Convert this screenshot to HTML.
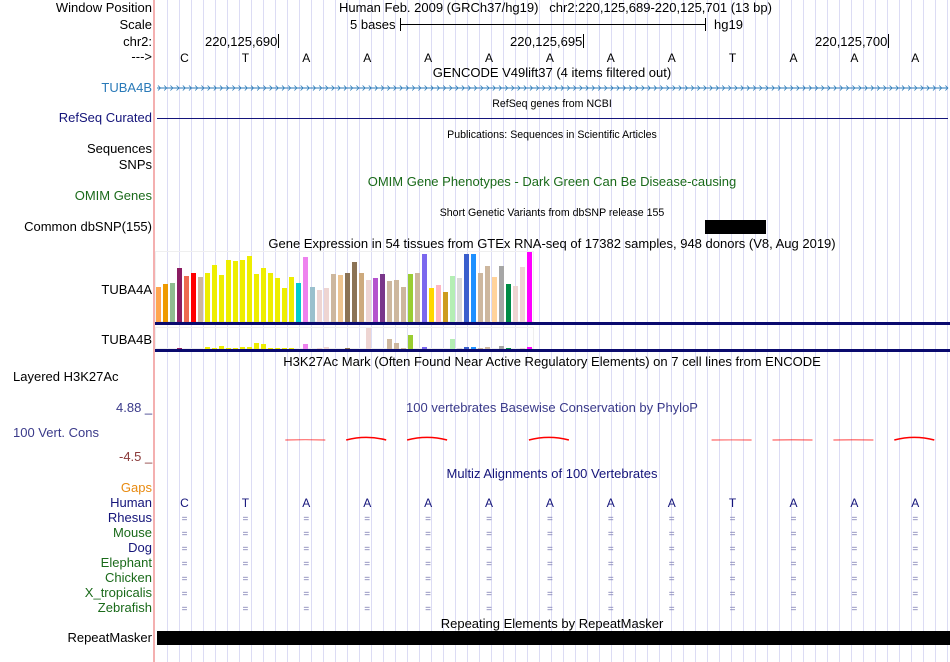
<!DOCTYPE html>
<html><head><meta charset="utf-8"><style>
html,body{margin:0;padding:0;background:#fff;}
#root{position:relative;width:950px;height:662px;overflow:hidden;font-family:"Liberation Sans",sans-serif;font-size:13px;color:#000;}
.a{position:absolute;white-space:nowrap;line-height:14px;}
.l{position:absolute;right:798px;white-space:nowrap;line-height:14px;text-align:right;}
.t{position:absolute;white-space:nowrap;line-height:14px;transform:translateX(-50%);}
.s{font-size:10.6px;}
</style></head><body>
<div id="root">
<svg id="grid" width="950" height="662" style="position:absolute;left:0;top:0"></svg>

<div class="l" style="top:1px">Window Position</div>
<div class="l" style="top:18px">Scale</div>
<div class="l" style="top:35px">chr2:</div>
<div class="l" style="top:50px">---&gt;</div>
<div class="a" style="left:339px;top:1px">Human Feb. 2009 (GRCh37/hg19)&nbsp;&nbsp; chr2:220,125,689-220,125,701 (13 bp)</div>
<div class="a" style="left:350px;top:18px">5 bases</div>
<div class="a" style="left:400px;top:24px;width:306px;height:1px;background:#000"></div>
<div class="a" style="left:400px;top:18px;width:1px;height:13px;background:#000"></div>
<div class="a" style="left:705px;top:18px;width:1px;height:13px;background:#000"></div>
<div class="a" style="left:714px;top:18px">hg19</div>
<div class="a" style="left:205px;top:35px">220,125,690</div>
<div class="a" style="left:278px;top:34px;width:1px;height:14px;background:#000"></div>
<div class="a" style="left:510px;top:35px">220,125,695</div>
<div class="a" style="left:583px;top:34px;width:1px;height:14px;background:#000"></div>
<div class="a" style="left:815px;top:35px">220,125,700</div>
<div class="a" style="left:888px;top:34px;width:1px;height:14px;background:#000"></div>

<div class="t" style="left:552px;top:66px">GENCODE V49lift37 (4 items filtered out)</div>
<div class="l" style="top:81px;color:#2a7ab8">TUBA4B</div>
<div class="t s" style="left:552px;top:97px">RefSeq genes from NCBI</div>
<div class="l" style="top:111px;color:#14147a">RefSeq Curated</div>
<div class="a" style="left:157px;top:118px;width:791px;height:1px;background:#14147a"></div>
<div class="t s" style="left:552px;top:128px">Publications: Sequences in Scientific Articles</div>
<div class="l" style="top:142px">Sequences</div>
<div class="l" style="top:158px">SNPs</div>
<div class="t" style="left:552px;top:175px;color:#1a6a1a">OMIM Gene Phenotypes - Dark Green Can Be Disease-causing</div>
<div class="l" style="top:189px;color:#1a6a1a">OMIM Genes</div>
<div class="t s" style="left:552px;top:206px">Short Genetic Variants from dbSNP release 155</div>
<div class="l" style="top:220px">Common dbSNP(155)</div>
<div class="a" style="left:705px;top:220px;width:61px;height:14px;background:#000"></div>
<div class="t" style="left:552px;top:237px">Gene Expression in 54 tissues from GTEx RNA-seq of 17382 samples, 948 donors (V8, Aug 2019)</div>
<div class="l" style="top:283px">TUBA4A</div>
<div class="l" style="top:333px">TUBA4B</div>
<div class="a" style="left:155px;top:322px;width:795px;height:3px;background:#0a0a6e"></div>
<div class="a" style="left:155px;top:349px;width:795px;height:3px;background:#0a0a6e"></div>
<div class="t" style="left:552px;top:355px">H3K27Ac Mark (Often Found Near Active Regulatory Elements) on 7 cell lines from ENCODE</div>
<div class="a" style="top:370px;left:13px">Layered H3K27Ac</div>
<div class="a" style="left:116px;top:401px;color:#3a3a8a">4.88 _</div>
<div class="a" style="left:13px;top:426px;color:#3a3a8a">100 Vert. Cons</div>
<div class="a" style="left:119px;top:450px;color:#8b3a3a">-4.5 _</div>
<div class="t" style="left:552px;top:401px;color:#3a3a8a">100 vertebrates Basewise Conservation by PhyloP</div>
<div class="t" style="left:552px;top:467px;color:#14147a">Multiz Alignments of 100 Vertebrates</div>
<div class="l" style="top:481px;color:#e88a10">Gaps</div>
<div class="t" style="left:552px;top:617px">Repeating Elements by RepeatMasker</div>
<div class="l" style="top:631px">RepeatMasker</div>
<div class="a" style="left:157px;top:631px;width:793px;height:14px;background:#000"></div>
<div class="a" style="left:153px;top:0;width:2px;height:662px;background:#f4b0b0"></div>
<svg id="plot" width="950" height="662" style="position:absolute;left:0;top:0"></svg>
</div>
<script>
const bases=["C","T","A","A","A","A","A","A","A","T","A","A","A"];
const species=["Human","Rhesus","Mouse","Dog","Elephant","Chicken","X_tropicalis","Zebrafish"];
const speciesColors=["#14147a","#14147a","#1a6a1a","#14147a","#1a6a1a","#1a6a1a","#1a6a1a","#1a6a1a"];
const gtexTuba4a=[35,38,39,54,46,49,45,49,57,47,62,61,62,66,48,54,49,44,34,45,39,65,35,32,34,48,47,49,60,49,42,44,48,41,42,35,48,49,68,34,37,30,46,44,68,68,49,56,45,56,38,36,55,70];
const gtexTuba4b=[0,0,0,1,0,0,0,2,1,3,1,1,2,2,6,5,1,1,1,1,0,5,0,1,2,0,0,1,0,0,21,0,0,10,6,1,14,0,2,0,0,0,10,1,2,2,1,2,0,3,1,0,1,2];
const gtexColors=["#FFA54F","#EE9A00","#8FBC8F","#8B1C62","#EE6A50","#FF0000","#CDB79E","#EEEE00","#EEEE00","#EEEE00","#EEEE00","#EEEE00","#EEEE00","#EEEE00","#EEEE00","#EEEE00","#EEEE00","#EEEE00","#EEEE00","#EEEE00","#00CDCD","#EE82EE","#9AC0CD","#EED5D2","#EED5D2","#CDB79E","#EEC591","#8B7355","#8B7355","#CDAA7D","#EED5D2","#B452CD","#7A378B","#CDB79E","#CDB79E","#CDB79E","#9ACD32","#CDB79E","#7B68EE","#FFD700","#FFB6C1","#CD9B1D","#B4EEB4","#D9D9D9","#3A5FCD","#1E90FF","#CDB79E","#CDB79E","#FFD39B","#A6A6A6","#008B45","#EED5D2","#EED5D2","#FF00FF"];
const consScores=[0,0,0.05,0.6,0.6,0,0.6,0,0,0.02,0.04,0.04,0.6];
const consMax=4.88, consMin=-4.5;

const NS="http://www.w3.org/2000/svg";
const plot=document.getElementById('plot'), grid=document.getElementById('grid');
function mk(p,tag,at){const e=document.createElementNS(NS,tag);for(const k in at)e.setAttribute(k,at[k]);p.appendChild(e);return e;}
const baseX=i=>184.5+60.9*i;
for(let x=167.5;x<950;x+=12){const g=mk(grid,'line',{x1:x,x2:x,y1:0,y2:662,stroke:'#dcdcf4','stroke-width':1});

}
bases.forEach((b,i)=>{const t=mk(plot,'text',{x:baseX(i),y:62,'text-anchor':'middle','font-size':12,'font-family':'Liberation Sans'});t.textContent=b;

});
const gl=mk(plot,'line',{x1:157,x2:948,y1:88,y2:88,stroke:'#2a7ab8','stroke-width':1});


let d='';for(let x=158;x<946;x+=6.2){d+=`M${x} 85.5L${x+2.5} 88L${x} 90.5`;}
const ga=mk(plot,'path',{d:d,stroke:'#2a7ab8',fill:'none','stroke-width':0.8});


const gb=mk(plot,'rect',{x:155.5,y:251.5,width:378,height:70,fill:'none',stroke:'#efefef'});


const gb2=mk(plot,'rect',{x:155.5,y:327.5,width:378,height:21,fill:'none',stroke:'#efefef'});


const gx=i=>156+7*i;
const y1=v=>322-v, y2=v=>349-v;
gtexTuba4a.forEach((v,i)=>{const r=mk(plot,'rect',{x:gx(i),y:y1(v),width:5,height:v,fill:gtexColors[i]});

});
gtexTuba4b.forEach((v,i)=>{if(v<=0)return;const r=mk(plot,'rect',{x:gx(i),y:y2(v),width:5,height:v,fill:gtexColors[i]});

});
const cy=v=>440-v*7;
consScores.forEach((s,i)=>{if(!s)return;const cx=baseX(i)-1;
const p=mk(plot,'path',{d:`M${cx-20} ${cy(0)}Q${cx} ${cy(s)-(s>0.3?1:0)} ${cx+20} ${cy(0)}`,stroke:'#ff0000',fill:'none','stroke-width':s>0.3?1.5:0.7});

});
species.forEach((sp,j)=>{const y=507+15*j;const t=document.createElement('div');t.className='l';t.style.top=(y-11)+'px';t.style.color=speciesColors[j];t.textContent=sp;


document.getElementById('root').appendChild(t);
bases.forEach((b,i)=>{const tx=mk(plot,'text',{x:baseX(i),y:y,'text-anchor':'middle','font-size':j?10:12,fill:j?'#7a7ab0':'#14147a','font-family':'Liberation Sans'});tx.textContent=j?'=':b;

});});
</script>
</body></html>
